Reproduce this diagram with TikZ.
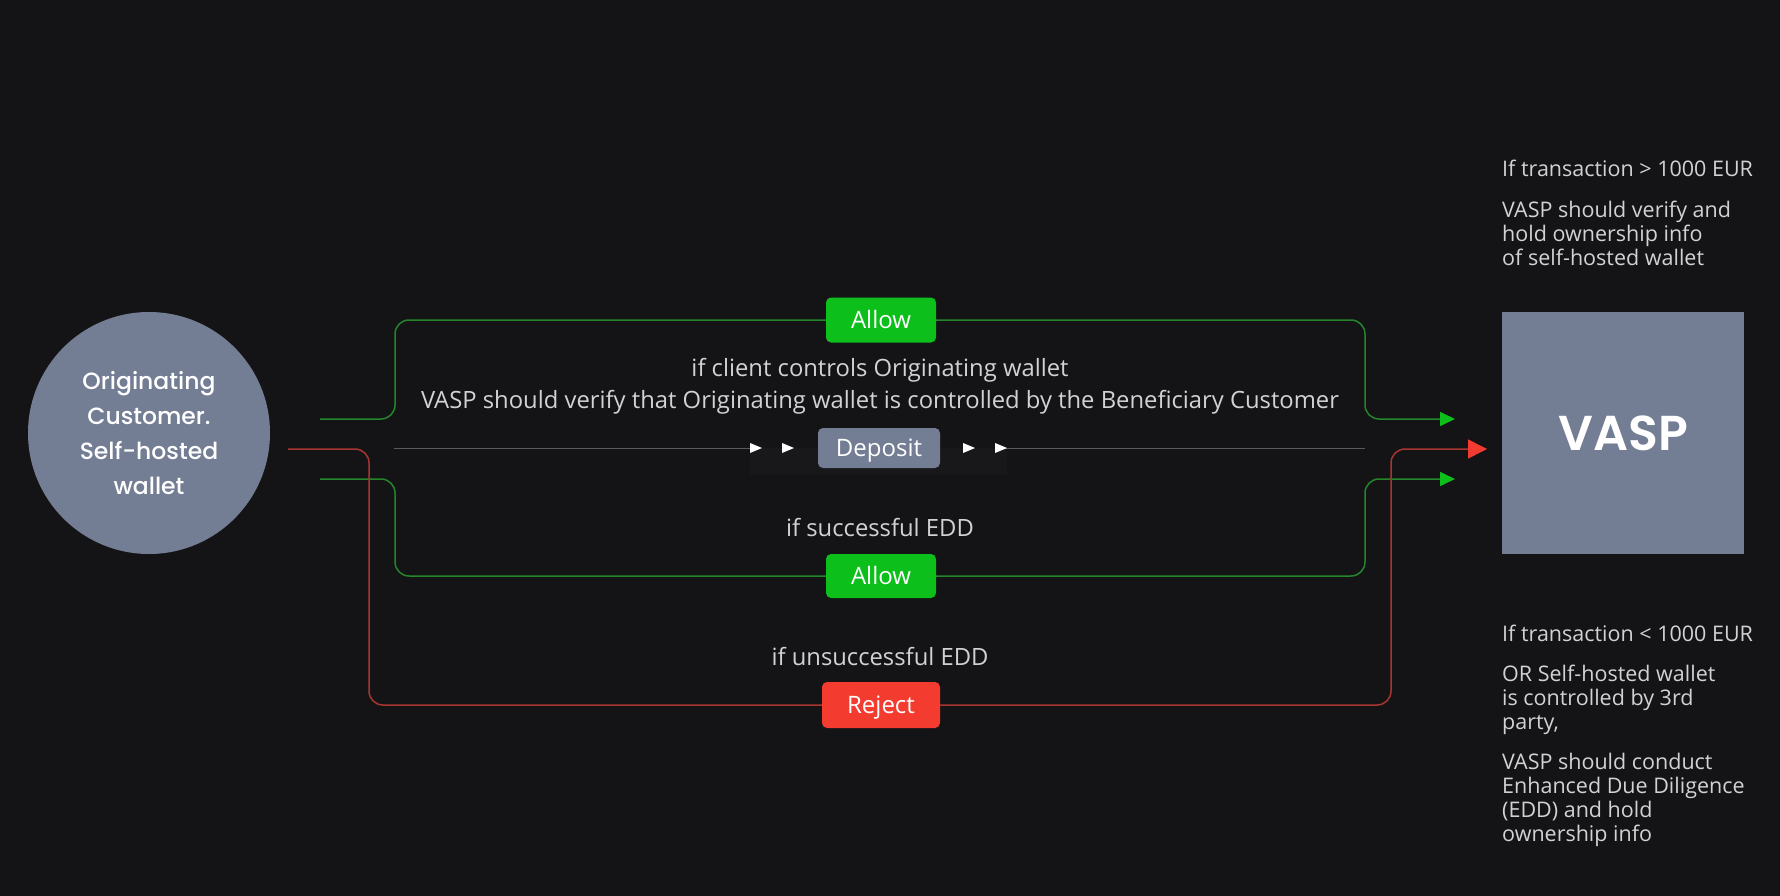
\documentclass[tikz,border=0pt]{standalone}
\usepackage{fontspec}
\setmainfont{Open Sans}
\IfFontExistsTF{Poppins Medium}{\newfontfamily\popfont{Poppins Medium}}{\newfontfamily\popfont{Poppins}}
\IfFontExistsTF{Poppins SemiBold}{\newfontfamily\popbold{Poppins SemiBold}}{\newfontfamily\popbold{Poppins}}
\IfFontExistsTF{Open Sans Medium}{\newfontfamily\badgefont{Open Sans Medium}}{\newfontfamily\badgefont{Open Sans}}
\usetikzlibrary{arrows.meta}
\definecolor{bg}{HTML}{141416}
\definecolor{slate}{HTML}{737D94}
\definecolor{okgreen}{HTML}{0DBF1B}
\definecolor{okline}{HTML}{23862A}
\definecolor{nored}{HTML}{F33B30}
\definecolor{noline}{HTML}{A8362F}
\definecolor{txt}{HTML}{D2D2D4}
\definecolor{dline}{HTML}{5A5A5E}
\definecolor{panelbg}{HTML}{18181B}
\tikzset{
  badge/.style={rectangle, rounded corners=5, text=white, inner sep=0,
    text height=17, text depth=0, font=\badgefont\fontsize{24}{28}\selectfont},
  lbl/.style={text=txt, inner sep=0, text height=17, text depth=0,
    font=\fontsize{23.8}{28}\selectfont},
  note/.style={text=txt, inner sep=0, anchor=west, align=left,
    font=\fontsize{21.5}{24}\selectfont},
  gline/.style={draw=okline, line width=1.5, rounded corners=14},
  garrow/.style={gline, -{Triangle[length=15,width=14,color=okgreen]}},
  rline/.style={draw=noline, line width=1.5, rounded corners=14},
  rarrow/.style={rline, -{Triangle[length=19,width=19,color=nored]}},
  tick/.style={fill=white}
}
\begin{document}
\begin{tikzpicture}[x=1pt,y=-1pt]
\fill[bg] (0,0) rectangle (1780,896);
\useasboundingbox (0,0) rectangle (1780,896);

% faint panel behind deposit
\fill[panelbg] (750,448) rectangle (1007,475);

% main nodes
\node[circle, fill=slate, minimum size=242, inner sep=0, align=center, text=white,
  font=\popfont\fontsize{23.5}{35}\selectfont] (orig) at (149,433)
  {Originating\\Customer.\\Self-hosted\\wallet};
\node[rectangle, fill=slate, minimum width=242, minimum height=242, inner sep=0,
  text=white, font=\popbold\fontsize{49}{52}\selectfont] (vasp) at (1623,433) {VASP};

\node[badge, fill=okgreen, minimum width=110, minimum height=45] (allow1) at (881,320) {Allow};
\node[badge, fill=slate, minimum width=122, minimum height=40] (deposit) at (879,448) {Deposit};
\node[badge, fill=okgreen, minimum width=110, minimum height=44] (allow2) at (881,576) {Allow};
\node[badge, fill=nored, minimum width=118, minimum height=46] (reject) at (881,705) {Reject};

% connector end points
\coordinate (s1) at (320,419);
\coordinate (s2) at (288,449);
\coordinate (s3) at (320,479);
\coordinate (e1) at (1455,419);
\coordinate (e2) at (1487,449);
\coordinate (e3) at (1455,479);
\coordinate (d0) at (394,448);
\coordinate (d1) at (752,448);
\coordinate (d2) at (1005,448);
\coordinate (d3) at (1365,448);

% green top
\draw[gline] (s1) -- (395,419) |- (allow1.west);
\draw[garrow] (allow1.east) -| (1365,419) -- (e1);
% green bottom
\draw[gline] (s3) -- (395,479) |- (allow2.west);
\draw[garrow] (allow2.east) -| (1365,479) -- (e3);
% red
\draw[rline] (s2) -- (369,449) |- (reject.west);
\draw[rarrow] (reject.east) -| (1391,449) -- (e2);

% deposit line
\draw[dline, line width=1] (d0) -- (d1);
\draw[dline, line width=1] (d2) -- (d3);
\fill[tick] (750,443) -- (762,448) -- (750,453) -- cycle;
\fill[tick] (782,443) -- (794,448) -- (782,453) -- cycle;
\fill[tick] (963,443) -- (975,448) -- (963,453) -- cycle;
\fill[tick] (995,443) -- (1007,448) -- (995,453) -- cycle;

% labels
\node[lbl] (t1) at (880,368) {if client controls Originating wallet};
\node[lbl] (t2) at (880,400) {VASP should verify that Originating wallet is controlled by the Beneficiary Customer};
\node[lbl] (t3) at (880,528) {if successful EDD};
\node[lbl] (t4) at (880,657) {if unsuccessful EDD};

% notes
\node[note] (n1) at (1502,168) {If transaction > 1000 EUR};
\node[note] (n2) at (1502,233) {VASP should verify and\\hold ownership info\\of self-hosted wallet};
\node[note] (n3) at (1502,633) {If transaction < 1000 EUR};
\node[note] (n4) at (1502,699.5) {OR Self-hosted wallet\\is controlled by 3rd\\party,};
\node[note] (n5) at (1502,799.5) {VASP should conduct\\Enhanced Due Diligence\\(EDD) and hold\\ownership info};
\end{tikzpicture}
\end{document}
